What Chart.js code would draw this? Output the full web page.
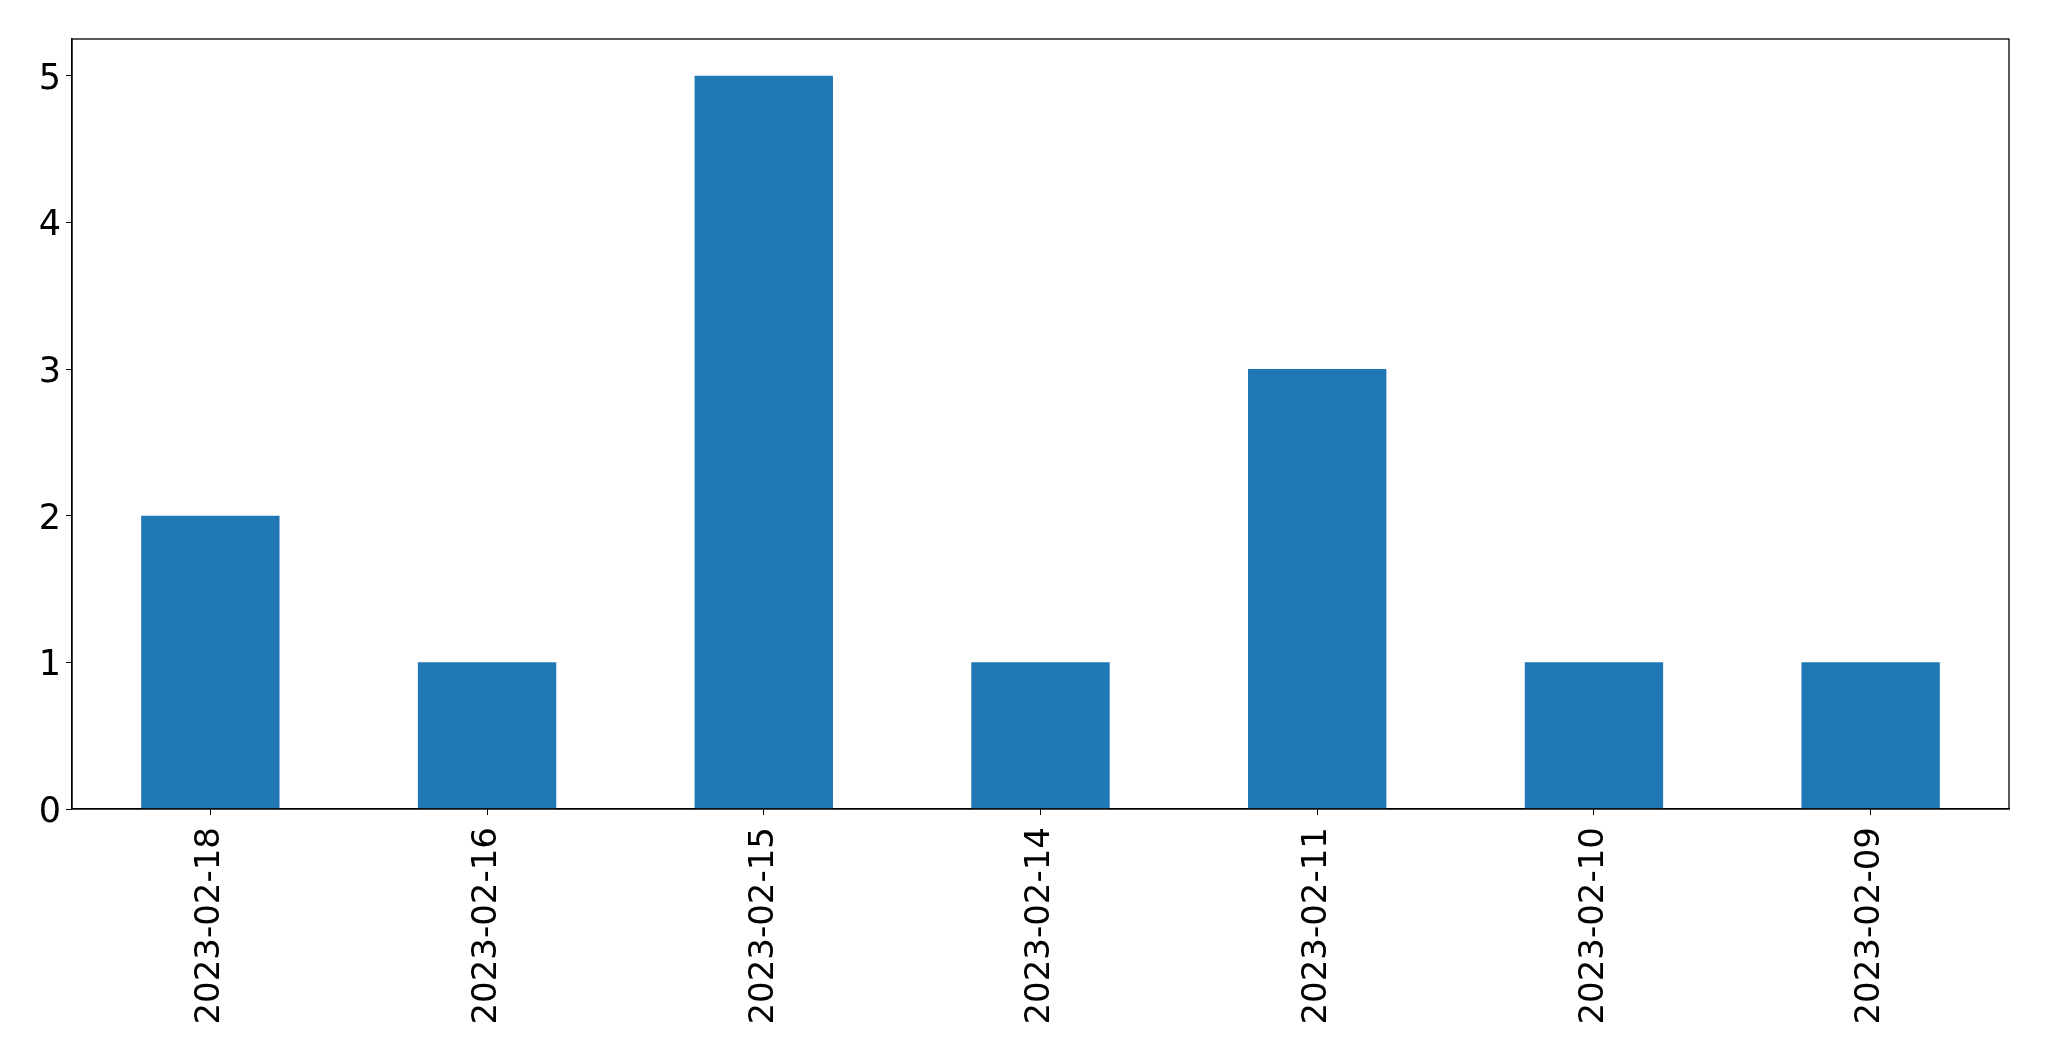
<!DOCTYPE html>
<html>
<head>
<meta charset="utf-8">
<script src="https://cdn.jsdelivr.net/npm/chart.js@4/dist/chart.umd.min.js"></script>
<style>
  html, body { margin: 0; padding: 0; background: #fff; }
  #wrap { width: 2049px; height: 1061px; }
</style>
</head>
<body>
<div id="wrap"><canvas id="chart" width="2049" height="1061"></canvas></div>
<script>
// === Data ===
const dates = ['2023-02-18', '2023-02-16', '2023-02-15', '2023-02-14', '2023-02-11', '2023-02-10', '2023-02-09'];
const counts = [2, 1, 5, 1, 3, 1, 1];
const yTicks = [0, 1, 2, 3, 4, 5];

// frame round the plot area (top and right sides too)
const frame = {
    id: 'frame',
    afterDraw(chart) {
        const { ctx, chartArea: a } = chart;
        ctx.save();
        ctx.strokeStyle = '#000';
        ctx.lineWidth = 1.3;
        ctx.strokeRect(a.left, a.top, a.right - a.left, a.bottom - a.top);
        ctx.restore();
    }
};

const ctx = document.getElementById('chart').getContext('2d');
new Chart(ctx, {
    type: 'bar',
    data: {
        labels: dates,
        datasets: [{
            data: counts,
            backgroundColor: '#1f77b4',
            borderWidth: 0,
            categoryPercentage: 0.5,
            barPercentage: 1.0
        }]
    },
    options: {
        responsive: false,
        animation: false,
        layout: { padding: { top: 39, right: 40, left: 0, bottom: 0 } },
        plugins: { legend: { display: false }, tooltip: { enabled: false } },
        scales: {
            x: {
                grid: { drawOnChartArea: false, drawTicks: true, tickLength: 6, color: '#000', offset: false },
                border: { display: true, color: '#000', width: 1.3 },
                ticks: {
                    color: '#000',
                    font: { family: 'DejaVu Sans', size: 34 },
                    minRotation: 90,
                    maxRotation: 90,
                    padding: 12,
                    autoSkip: false
                },
                afterFit(scale) { scale.height = 1061 - 809; }
            },
            y: {
                min: 0,
                max: 5.25,
                grid: { drawOnChartArea: false, drawTicks: true, tickLength: 6, color: '#000' },
                border: { display: true, color: '#000', width: 1.3 },
                ticks: {
                    color: '#000',
                    // small line height + leading empty line nudges the label a few px down
                    font: { family: 'DejaVu Sans', size: 35, lineHeight: '8px' },
                    stepSize: 1,
                    padding: 5,
                    callback: (v) => ['', String(v)]
                },
                afterBuildTicks(scale) { scale.ticks = yTicks.map(v => ({ value: v })); },
                afterFit(scale) { scale.width = 72; }
            }
        }
    },
    plugins: [frame]
});
</script>
</body>
</html>
